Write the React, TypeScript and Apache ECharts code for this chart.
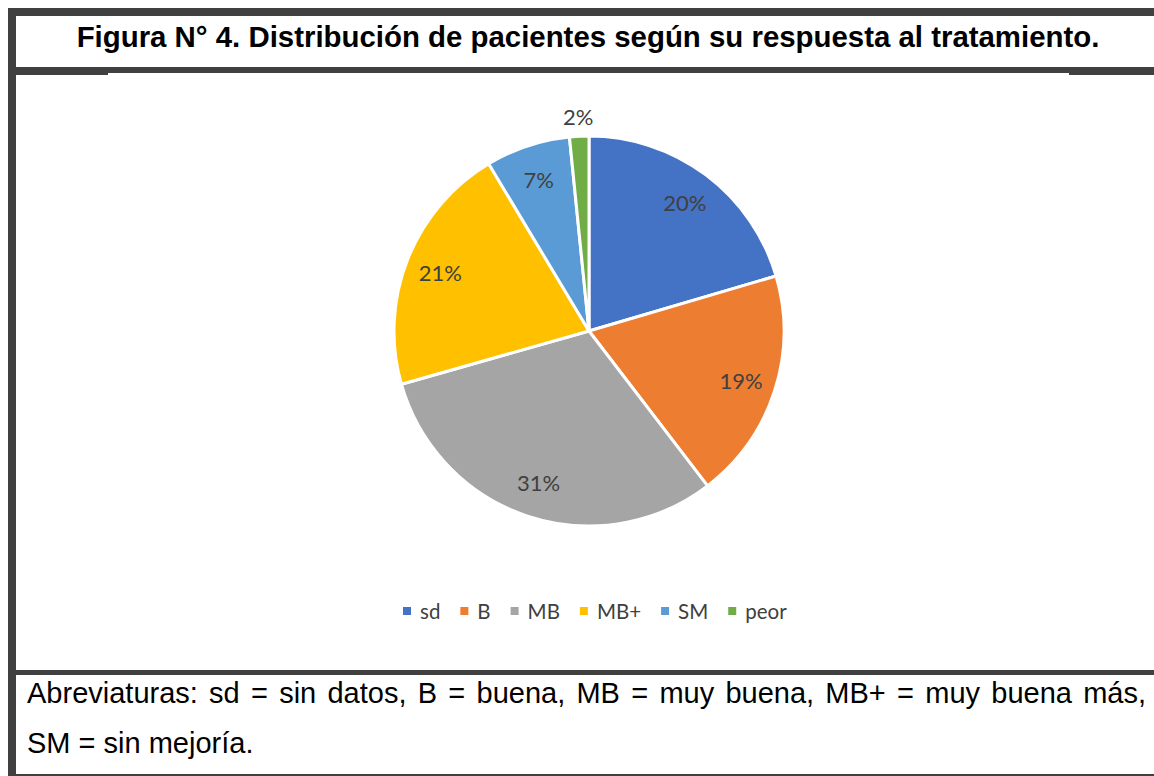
import React, { useEffect, useRef } from "react";
import * as echarts from "echarts";

const categories = ["sd", "B", "MB", "MB+", "SM", "peor"];
const shares = [20.45, 19.15, 31.0, 20.8, 7.0, 1.6];
const sliceColors = ["#4472C4", "#ED7D31", "#A5A5A5", "#FFC000", "#5B9BD5", "#70AD47"];
const outsideLabelCategories = ["peor"];

const titleText = "Figura N° 4. Distribución de pacientes según su respuesta al tratamiento.";
const footLine1 = "Abreviaturas: sd = sin datos, B = buena, MB = muy buena, MB+ = muy buena más,";
const footLine2 = "SM = sin mejoría.";

const FRAME = "#404040";
const CENTER = [589, 331];
const R = 195;

function App() {
  const ref = useRef<HTMLDivElement>(null);

  useEffect(() => {
    if (!ref.current) return;
    const chart = echarts.init(ref.current, null, { renderer: "svg" });
    const fmt = (p: any) => Math.round(p.value) + "%";
    const labelStyle = {
      fontFamily: "Lato",
      fontSize: 22,
      color: "#404040",
      formatter: fmt,
    };
    const mainData = categories.map((c, i) => ({
      name: c,
      value: shares[i],
      itemStyle: { color: sliceColors[i] },
    }));
    const insideData = categories.map((c, i) => ({
      name: c,
      value: shares[i],
      itemStyle: { color: "rgba(0,0,0,0)", borderWidth: 0 },
      label: { show: !outsideLabelCategories.includes(c) },
    }));
    const outsideData = categories.map((c, i) => ({
      name: c,
      value: shares[i],
      itemStyle: { color: "rgba(0,0,0,0)", borderWidth: 0 },
      label: { show: outsideLabelCategories.includes(c) },
    }));
    chart.setOption({
      animation: false,
      legend: {
        data: categories,
        left: 398,
        top: 594,
        icon: "rect",
        itemWidth: 8,
        itemHeight: 8,
        itemGap: 20,
        selectedMode: false,
        itemStyle: { borderWidth: 0 },
        textStyle: {
          fontFamily: "Lato",
          fontSize: 20.5,
          color: "#404040",
          lineHeight: 24,
          padding: [0, 0, 0, 4],
        },
      },
      series: [
        {
          type: "pie",
          center: CENTER,
          radius: R,
          startAngle: 90,
          clockwise: true,
          silent: true,
          label: { show: false },
          labelLine: { show: false },
          itemStyle: { borderColor: "#ffffff", borderWidth: 3 },
          data: mainData,
        },
        {
          type: "pie",
          center: CENTER,
          radius: [119, R],
          startAngle: 90,
          clockwise: true,
          silent: true,
          legendHoverLink: false,
          label: { position: "inside", ...labelStyle },
          labelLine: { show: false },
          data: insideData,
        },
        {
          type: "pie",
          center: CENTER,
          radius: [209, 215],
          startAngle: 90,
          clockwise: true,
          silent: true,
          legendHoverLink: false,
          label: { position: "inside", ...labelStyle },
          labelLine: { show: false },
          data: outsideData,
        },
      ],
    });
    return () => chart.dispose();
  }, []);

  const bar = (left: number, top: number, width: number | string, height: number) => ({
    position: "absolute" as const,
    left,
    top,
    width,
    height,
    background: FRAME,
  });

  const textBase = {
    position: "absolute" as const,
    fontFamily: "'Liberation Sans', Arial, sans-serif",
    color: "#000",
    whiteSpace: "nowrap" as const,
  };

  return (
    <div
      style={{
        position: "fixed",
        left: 0,
        top: 0,
        width: 1154,
        height: 776,
        overflow: "hidden",
        background: "#fff",
      }}
    >
      <div ref={ref} style={{ position: "absolute", left: 0, top: 0, width: 1154, height: 776 }} />
      {/* frame */}
      <div style={bar(8, 8, 1146, 8)} />
      <div style={bar(8, 8, 8, 768)} />
      <div style={bar(16, 67, 92, 8)} />
      <div style={bar(108, 67, 961, 6)} />
      <div style={bar(1069, 67, 85, 8)} />
      <div style={bar(16, 670, 1138, 5)} />
      <div style={bar(16, 774, 1138, 2)} />
      {/* title */}
      <div
        style={{
          ...textBase,
          left: 22,
          top: 15,
          width: 1132,
          height: 44,
          lineHeight: "44px",
          textAlign: "center",
          fontWeight: "bold",
          fontSize: 29.4,
        }}
      >
        {titleText}
      </div>
      {/* footer */}
      <div
        style={{
          ...textBase,
          left: 27,
          top: 676,
          width: 1119,
          lineHeight: "34px",
          fontSize: 29,
          textAlign: "justify",
          textAlignLast: "justify",
          whiteSpace: "normal",
        }}
      >
        {footLine1}
      </div>
      <div style={{ ...textBase, left: 27, top: 726, lineHeight: "34px", fontSize: 29 }}>
        {footLine2}
      </div>
    </div>
  );
}

export default App;
